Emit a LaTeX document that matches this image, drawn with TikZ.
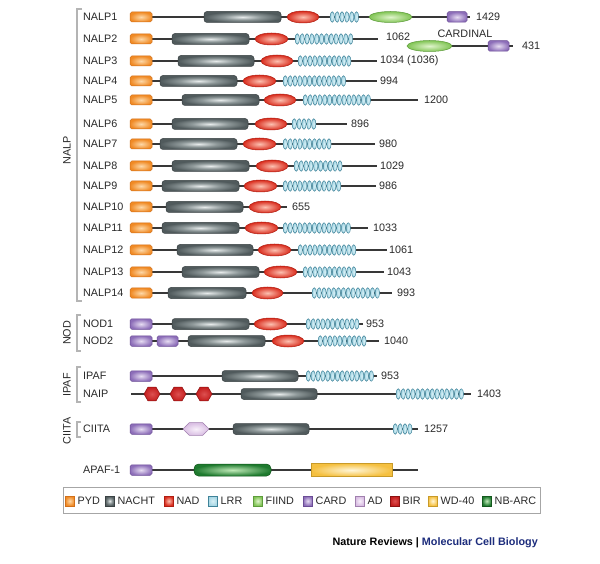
\documentclass[tikz,border=0pt]{standalone}
\usepackage{fontspec}
\setmainfont{Liberation Sans}
\usetikzlibrary{shapes.geometric}
\definecolor{lineC}{HTML}{383838}
\definecolor{txtC}{HTML}{2A2A2A}
\definecolor{pydE}{HTML}{F08A24}\definecolor{pydC}{HTML}{FDD8A8}\definecolor{pydO}{HTML}{D2701A}
\definecolor{nachtE}{HTML}{505A5C}\definecolor{nachtM}{HTML}{8E9899}\definecolor{nachtC}{HTML}{E8ECEC}\definecolor{nachtO}{HTML}{3A4244}
\definecolor{nadE}{HTML}{D92B1C}\definecolor{nadC}{HTML}{FCC0B0}\definecolor{nadO}{HTML}{B01E12}
\definecolor{lrrF}{HTML}{A6D6E4}\definecolor{lrrC}{HTML}{D8F0F6}\definecolor{lrrO}{HTML}{3F8399}
\definecolor{fiindE}{HTML}{80C454}\definecolor{fiindC}{HTML}{E0F4CC}\definecolor{fiindO}{HTML}{5E9C3C}
\definecolor{cardE}{HTML}{8C6DB8}\definecolor{cardC}{HTML}{E6DCF2}\definecolor{cardO}{HTML}{6B4D96}
\definecolor{adE}{HTML}{D8BCE2}\definecolor{adC}{HTML}{F8F0FA}\definecolor{adO}{HTML}{A080AE}
\definecolor{birE}{HTML}{C41E1E}\definecolor{birC}{HTML}{DC5050}\definecolor{birO}{HTML}{8C1212}
\definecolor{wdE}{HTML}{F5C040}\definecolor{wdC}{HTML}{FFF6D8}\definecolor{wdO}{HTML}{C89A28}
\definecolor{nbE}{HTML}{1E7A2E}\definecolor{nbC}{HTML}{C0EAB8}\definecolor{nbO}{HTML}{14581E}
\definecolor{brC}{HTML}{B4B4B4}
\definecolor{navyC}{HTML}{1C2C7C}
\pgfdeclareradialshading{shPYD}{\pgfpointorigin}{color(0bp)=(pydC); color(25bp)=(pydE); color(50bp)=(pydE)}
\pgfdeclareradialshading{shNACHT}{\pgfpointorigin}{color(0bp)=(nachtC); color(12bp)=(nachtM); color(25bp)=(nachtE); color(50bp)=(nachtE)}
\pgfdeclareradialshading{shNAD}{\pgfpointorigin}{color(0bp)=(nadC); color(25bp)=(nadE); color(50bp)=(nadE)}
\pgfdeclareradialshading{shLRR}{\pgfpointorigin}{color(0bp)=(lrrC); color(25bp)=(lrrF); color(50bp)=(lrrF)}
\pgfdeclareradialshading{shFIIND}{\pgfpointorigin}{color(0bp)=(fiindC); color(25bp)=(fiindE); color(50bp)=(fiindE)}
\pgfdeclareradialshading{shCARD}{\pgfpointorigin}{color(0bp)=(cardC); color(25bp)=(cardE); color(50bp)=(cardE)}
\pgfdeclareradialshading{shAD}{\pgfpointorigin}{color(0bp)=(adC); color(25bp)=(adE); color(50bp)=(adE)}
\pgfdeclareradialshading{shBIR}{\pgfpointorigin}{color(0bp)=(birC); color(25bp)=(birE); color(50bp)=(birE)}
\pgfdeclareradialshading{shWD}{\pgfpointorigin}{color(0bp)=(wdC); color(25bp)=(wdE); color(50bp)=(wdE)}
\pgfdeclareradialshading{shNB}{\pgfpointorigin}{color(0bp)=(nbC); color(25bp)=(nbE); color(50bp)=(nbE)}
\tikzset{
  bb/.style={draw=lineC, line width=1.2pt},
  brk/.style={draw=brC, line width=1.2pt},
  dom/.style={inner sep=0pt, outer sep=0pt, line width=0.5pt},
  pydbox/.style={dom, rectangle, rounded corners=1.8pt, minimum width=22pt, minimum height=10pt, draw=pydO, shading=shPYD},
  cardbox/.style={dom, rectangle, rounded corners=1.8pt, minimum height=10.5pt, draw=cardO, shading=shCARD},
  nachtbox/.style={dom, rectangle, rounded corners=3pt, minimum height=11pt, draw=nachtO, shading=shNACHT},
  nadbox/.style={dom, ellipse, minimum height=12pt, draw=nadO, shading=shNAD},
  lrrbox/.style={dom, ellipse, minimum width=4.4pt, minimum height=10.5pt, draw=lrrO, shading=shLRR},
  fiindbox/.style={dom, ellipse, minimum height=11pt, draw=fiindO, shading=shFIIND},
  birbox/.style={dom, regular polygon, regular polygon sides=6, minimum size=16pt, draw=birO, shading=shBIR},
  adbox/.style={dom, regular polygon, regular polygon sides=6, minimum size=15pt, xscale=1.75, transform shape, draw=adO, shading=shAD},
  wdbox/.style={dom, rectangle, minimum height=13pt, draw=wdO, shading=shWD},
  nbbox/.style={dom, rectangle, rounded corners=4.5pt, minimum height=12pt, draw=nbO, shading=shNB},
  lbl/.style={anchor=west, inner sep=0pt, font=\fontsize{10.8}{12}\selectfont, text=txtC},
  grp/.style={inner sep=0pt, rotate=90, font=\fontsize{10.8}{12}\selectfont, text=txtC},
  legsq/.style={dom, rectangle, minimum width=9.5pt, minimum height=9.5pt},
}
% helpers
\newcommand\dRow[5]{% name, label, y, start, end
  \node[lbl] (#1-name) at (83,#3) {#2};
  \coordinate (#1-s) at (#4,#3);
  \coordinate (#1-e) at (#5,#3);
  \draw[bb] (#1-s) -- (#1-e);}
\newcommand\dNum[4]{\node[lbl] (#1) at (#3,#4) {#2};}
\newcommand\dPYD[2]{\node[pydbox] (#1) at (141,#2) {};}
\newcommand\dCARD[4]{\node[cardbox, minimum width={#3-#2}] (#1) at ({(#2+#3)/2},#4) {};}
\newcommand\dNACHT[4]{\node[nachtbox, minimum width={#3-#2}] (#1) at ({(#2+#3)/2},#4) {};}
\newcommand\dNAD[4]{\node[nadbox, minimum width={#3-#2}] (#1) at ({(#2+#3)/2},#4) {};}
\newcommand\dFIIND[4]{\node[fiindbox, minimum width={#3-#2}] (#1) at ({(#2+#3)/2},#4) {};}
\newcommand\dLRR[4]{\foreach \k in {1,...,#3}{\node[lrrbox] (#1-\k) at ({#2+2.3+(\k-1)*4.85},#4) {};}}
\newcommand\dLeg[5]{% name, x, text, shading, outline
  \node[legsq, shading=#4, draw=#5] (#1) at (#2+4.75,501) {};
  \node[lbl] (#1-t) at (#2+12.5,501) {#3};}
\begin{document}
\begin{tikzpicture}[x=1pt,y=-1pt]
\useasboundingbox (0,0) rectangle (600,564);
\fill[white] (0,0) rectangle (600,564);
% brackets and group labels
\draw[brk] (82,9) -- (77,9) -- (77,301) -- (82,301);
\node[grp] (gNALP) at (67,150) {NALP};
\draw[brk] (81,315) -- (77,315) -- (77,351) -- (81,351);
\node[grp] (gNOD) at (67,333) {NOD};
\draw[brk] (81,367) -- (77,367) -- (77,402) -- (81,402);
\node[grp] (gIPAF) at (67,385) {IPAF};
\draw[brk] (81,422) -- (77,422) -- (77,437) -- (81,437);
\node[grp] (gCIITA) at (67,431) {CIITA};
% NALP1
\dRow{n1}{NALP1}{17}{141}{470}
\dPYD{n1p}{17}\dNACHT{n1n}{204}{281}{17}\dNAD{n1d}{287}{319}{17}\dLRR{n1l}{330}{6}{17}
\dFIIND{n1f}{369}{412}{17}\dCARD{n1c}{447}{467}{17}\dNum{n1x}{1429}{476}{17}
% NALP2
\dRow{n2}{NALP2}{39}{141}{378}
\dPYD{n2p}{39}\dNACHT{n2n}{172}{249}{39}\dNAD{n2d}{255}{288}{39}\dLRR{n2l}{295}{12}{39}
\dNum{n2x}{1062}{386}{37}
% CARDINAL
\node[inner sep=0pt, font=\fontsize{10.8}{12}\selectfont, text=txtC] (cdl) at (465,34) {CARDINAL};
\coordinate (cd-s) at (430,46); \coordinate (cd-e) at (513,46);
\draw[bb] (cd-s) -- (cd-e);
\dFIIND{cdf}{407}{452}{46}\dCARD{cdc}{488}{509}{46}\dNum{cdx}{431}{522}{46}
% NALP3
\dRow{n3}{NALP3}{61}{141}{377}
\dPYD{n3p}{61}\dNACHT{n3n}{178}{254}{61}\dNAD{n3d}{261}{293}{61}\dLRR{n3l}{298}{11}{61}
\dNum{n3x}{1034 (1036)}{380}{61}
% NALP4
\dRow{n4}{NALP4}{81}{141}{377}
\dPYD{n4p}{81}\dNACHT{n4n}{160}{237}{81}\dNAD{n4d}{243}{276}{81}\dLRR{n4l}{283}{13}{81}
\dNum{n4x}{994}{380}{81}
% NALP5
\dRow{n5}{NALP5}{100}{141}{418}
\dPYD{n5p}{100}\dNACHT{n5n}{182}{259}{100}\dNAD{n5d}{264}{296}{100}\dLRR{n5l}{303}{14}{100}
\dNum{n5x}{1200}{424}{100}
% NALP6
\dRow{n6}{NALP6}{124}{141}{347}
\dPYD{n6p}{124}\dNACHT{n6n}{172}{248}{124}\dNAD{n6d}{255}{287}{124}\dLRR{n6l}{292}{5}{124}
\dNum{n6x}{896}{351}{124}
% NALP7
\dRow{n7}{NALP7}{144}{141}{375}
\dPYD{n7p}{144}\dNACHT{n7n}{160}{237}{144}\dNAD{n7d}{243}{276}{144}\dLRR{n7l}{283}{10}{144}
\dNum{n7x}{980}{379}{144}
% NALP8
\dRow{n8}{NALP8}{166}{141}{377}
\dPYD{n8p}{166}\dNACHT{n8n}{172}{249}{166}\dNAD{n8d}{256}{288}{166}\dLRR{n8l}{294}{10}{166}
\dNum{n8x}{1029}{380}{166}
% NALP9
\dRow{n9}{NALP9}{186}{141}{376}
\dPYD{n9p}{186}\dNACHT{n9n}{162}{239}{186}\dNAD{n9d}{244}{277}{186}\dLRR{n9l}{283}{12}{186}
\dNum{n9x}{986}{379}{186}
% NALP10
\dRow{n10}{NALP10}{207}{141}{287}
\dPYD{n10p}{207}\dNACHT{n10n}{166}{243}{207}\dNAD{n10d}{249}{281}{207}
\dNum{n10x}{655}{292}{207}
% NALP11
\dRow{n11}{NALP11}{228}{141}{368}
\dPYD{n11p}{228}\dNACHT{n11n}{162}{239}{228}\dNAD{n11d}{245}{278}{228}\dLRR{n11l}{283}{14}{228}
\dNum{n11x}{1033}{373}{228}
% NALP12
\dRow{n12}{NALP12}{250}{141}{387}
\dPYD{n12p}{250}\dNACHT{n12n}{177}{253}{250}\dNAD{n12d}{258}{291}{250}\dLRR{n12l}{298}{12}{250}
\dNum{n12x}{1061}{389}{250}
% NALP13
\dRow{n13}{NALP13}{272}{141}{384}
\dPYD{n13p}{272}\dNACHT{n13n}{182}{259}{272}\dNAD{n13d}{264}{297}{272}\dLRR{n13l}{303}{11}{272}
\dNum{n13x}{1043}{387}{272}
% NALP14
\dRow{n14}{NALP14}{293}{141}{392}
\dPYD{n14p}{293}\dNACHT{n14n}{168}{246}{293}\dNAD{n14d}{252}{283}{293}\dLRR{n14l}{312}{14}{293}
\dNum{n14x}{993}{397}{293}
% NOD1
\dRow{o1}{NOD1}{324}{141}{363}
\dCARD{o1c}{130}{152}{324}\dNACHT{o1n}{172}{249}{324}\dNAD{o1d}{254}{287}{324}\dLRR{o1l}{306}{11}{324}
\dNum{o1x}{953}{366}{324}
% NOD2
\dRow{o2}{NOD2}{341}{141}{379}
\dCARD{o2c}{130}{152}{341}\dCARD{o2c2}{157}{178}{341}\dNACHT{o2n}{188}{265}{341}\dNAD{o2d}{272}{304}{341}\dLRR{o2l}{318}{10}{341}
\dNum{o2x}{1040}{384}{341}
% IPAF
\dRow{i1}{IPAF}{376}{141}{377}
\dCARD{i1c}{130}{152}{376}\dNACHT{i1n}{222}{298}{376}\dLRR{i1l}{306}{14}{376}
\dNum{i1x}{953}{381}{376}
% NAIP
\dRow{i2}{NAIP}{394}{131}{471}
\node[birbox] (i2b1) at (152,394) {};
\node[birbox] (i2b2) at (178,394) {};
\node[birbox] (i2b3) at (204,394) {};
\dNACHT{i2n}{241}{317}{394}\dLRR{i2l}{396}{14}{394}
\dNum{i2x}{1403}{477}{394}
% CIITA
\dRow{c1}{CIITA}{429}{141}{418}
\dCARD{c1c}{130}{152}{429}
\node[adbox] (c1a) at (196,429) {};
\dNACHT{c1n}{233}{309}{429}\dLRR{c1l}{393}{4}{429}
\dNum{c1x}{1257}{424}{429}
% APAF-1
\dRow{a1}{APAF-1}{470}{141}{418}
\dCARD{a1c}{130}{152}{470}
\node[nbbox, minimum width=77pt] (a1nb) at (232.5,470) {};
\node[wdbox, minimum width=81pt] (a1wd) at (351.5,470) {};
% legend
\draw[draw=gray!70, line width=0.8pt, fill=white] (63,487) rectangle (540,513);
\dLeg{lg1}{65}{PYD}{shPYD}{pydO}
\dLeg{lg2}{105}{NACHT}{shNACHT}{nachtO}
\dLeg{lg3}{164}{NAD}{shNAD}{nadO}
\dLeg{lg4}{208}{LRR}{shLRR}{lrrO}
\dLeg{lg5}{253}{FIIND}{shFIIND}{fiindO}
\dLeg{lg6}{303}{CARD}{shCARD}{cardO}
\dLeg{lg7}{355}{AD}{shAD}{adO}
\dLeg{lg8}{390}{BIR}{shBIR}{birO}
\dLeg{lg9}{428}{WD-40}{shWD}{wdO}
\dLeg{lg10}{482}{NB-ARC}{shNB}{nbO}
% footer
\node[anchor=east, inner sep=0pt, font=\bfseries\fontsize{10.8}{12}\selectfont] (foot) at (538,543) {Nature Reviews | \textcolor{navyC}{Molecular Cell Biology}};
\end{tikzpicture}
\end{document}
